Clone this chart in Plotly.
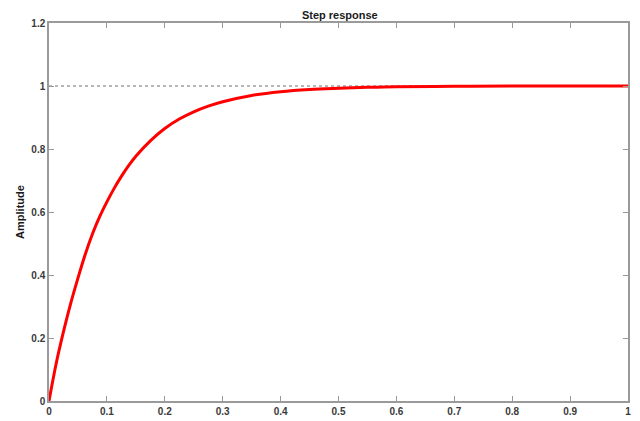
import plotly.graph_objects as go

# Step response values
t = [0, 0.0125, 0.025, 0.0375, 0.05, 0.0625, 0.075, 0.0875, 0.1, 0.1125, 0.125, 0.1375,
     0.15, 0.175, 0.2, 0.225, 0.25, 0.275, 0.3, 0.35, 0.4, 0.45, 0.5, 0.55, 0.6,
     0.7, 0.8, 0.9, 1.0]
amp = [0, 0.12, 0.22, 0.31, 0.39, 0.465, 0.53, 0.585, 0.632, 0.675, 0.713, 0.747,
       0.777, 0.826, 0.865, 0.895, 0.918, 0.936, 0.950, 0.970, 0.982, 0.989, 0.993,
       0.996, 0.998, 0.999, 1.0, 1.0, 1.0]

ref_t = [0, 1]
ref_y = [1, 1]

x_ticks = [0, 0.1, 0.2, 0.3, 0.4, 0.5, 0.6, 0.7, 0.8, 0.9, 1]
x_labels = ["0", "0.1", "0.2", "0.3", "0.4", "0.5", "0.6", "0.7", "0.8", "0.9", "1"]
y_ticks = [0, 0.2, 0.4, 0.6, 0.8, 1, 1.2]
y_labels = ["0", "0.2", "0.4", "0.6", "0.8", "1", "1.2"]

fig = go.Figure()
fig.add_trace(go.Scatter(x=ref_t, y=ref_y, mode="lines",
                         line=dict(color="#707070", width=1, dash="dot"),
                         hoverinfo="skip", showlegend=False))
fig.add_trace(go.Scatter(x=t, y=amp, mode="lines", line_shape="spline",
                         line=dict(color="#ff0000", width=3), showlegend=False))

tickfont = dict(family="Liberation Sans, Arial, sans-serif", size=10, color="#3a3a3a", weight="bold")
axis_common = dict(showgrid=False, zeroline=False, showline=True, linecolor="#9a9a9a",
                   linewidth=1.5, mirror="ticks", ticks="inside", ticklen=5,
                   tickcolor="#9a9a9a", tickwidth=1, tickfont=tickfont, automargin=False)

fig.update_layout(
    width=640, height=421,
    margin=dict(l=49, r=12, t=23, b=20),
    paper_bgcolor="white", plot_bgcolor="white",
    title=dict(text="Step response", x=0.531, xanchor="center", y=0.965, yanchor="middle",
               font=dict(family="Liberation Sans, Arial, sans-serif", size=11,
                         color="#1a1a1a", weight="bold")),
    xaxis=dict(range=[0, 1], tickvals=x_ticks, ticktext=x_labels, **axis_common),
    yaxis=dict(range=[0, 1.2], tickvals=y_ticks, ticktext=y_labels,
               title=dict(text="Amplitude", standoff=4,
                          font=dict(family="Liberation Sans, Arial, sans-serif", size=11,
                                    color="#1a1a1a", weight="bold")),
               **axis_common),
)

fig.write_html("out.html")
